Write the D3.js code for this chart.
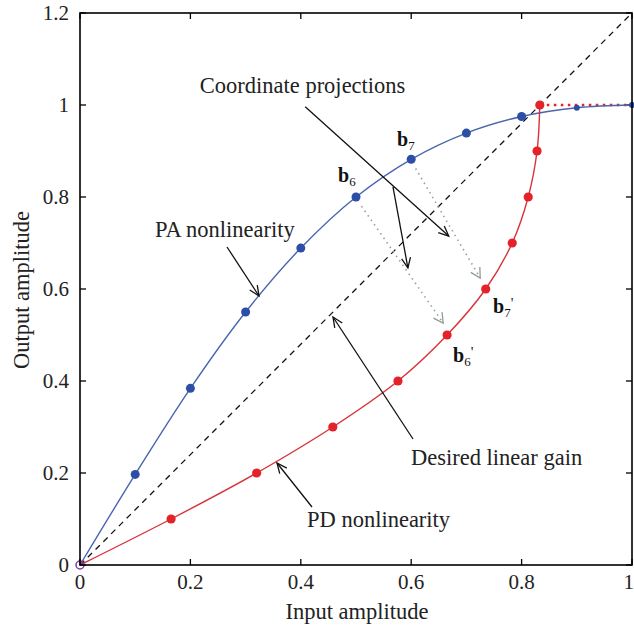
<!DOCTYPE html>
<html><head><meta charset="utf-8">
<script src="https://cdn.jsdelivr.net/npm/d3@7"></script>
<style>body{margin:0;background:#fff}svg{display:block}</style>
</head><body>
<svg id="c" width="634" height="632"></svg>
<script>
// ---- data ----
const paX = [0, 0.1, 0.2, 0.3, 0.4, 0.5, 0.6, 0.7, 0.8, 0.9, 1.0];
const paY = [0, 0.197, 0.384, 0.55, 0.689, 0.8, 0.882, 0.939, 0.975, 0.994, 1.0];
const pdX = [0, 0.165, 0.32, 0.458, 0.576, 0.665, 0.735, 0.783, 0.812, 0.828, 0.833];
const pdY = [0, 0.1, 0.2, 0.3, 0.4, 0.5, 0.6, 0.7, 0.8, 0.9, 1.0];
const gainLine = [[0, 0], [1, 1.2]];
const xTicks = [0, 0.2, 0.4, 0.6, 0.8, 1];
const yTicks = [0, 0.2, 0.4, 0.6, 0.8, 1, 1.2];
const xTickLabels = ["0", "0.2", "0.4", "0.6", "0.8", "1"];
const yTickLabels = ["0", "0.2", "0.4", "0.6", "0.8", "1", "1.2"];

// ---- layout ----
const L = 80, R = 632, T = 13, B = 565;
const svg = d3.select("#c");
const x = d3.scaleLinear().domain([0, 1]).range([L, R]);
const y = d3.scaleLinear().domain([0, 1.2]).range([B, T]);
const FONT = "'Liberation Serif','Times New Roman',serif";
const TXT = "#222";
const AFS = 22.5;

// ticks (inward, all four sides)
const g = svg.append("g").attr("stroke", "#000").attr("stroke-width", 1.3);
xTicks.forEach(v => {
  g.append("line").attr("x1", x(v)).attr("x2", x(v)).attr("y1", B).attr("y2", B - 6);
  g.append("line").attr("x1", x(v)).attr("x2", x(v)).attr("y1", T).attr("y2", T + 6);
});
yTicks.forEach(v => {
  g.append("line").attr("x1", L).attr("x2", L + 6).attr("y1", y(v)).attr("y2", y(v));
  g.append("line").attr("x1", R).attr("x2", R - 6).attr("y1", y(v)).attr("y2", y(v));
});

// tick labels
xTicks.forEach((v, i) => {
  const last = i === xTicks.length - 1;
  svg.append("text").attr("x", last ? 634 : x(v)).attr("y", 589)
    .attr("text-anchor", last ? "end" : "middle").attr("font-family", FONT).attr("font-size", 21)
    .attr("fill", TXT).text(xTickLabels[i]);
});
yTicks.forEach((v, i) => svg.append("text").attr("x", 69).attr("y", y(v) + 7)
  .attr("text-anchor", "end").attr("font-family", FONT).attr("font-size", 21)
  .attr("fill", TXT).text(yTickLabels[i]));

// axis titles
svg.append("text").attr("x", 357).attr("y", 619).attr("text-anchor", "middle")
  .attr("font-family", FONT).attr("font-size", AFS).attr("fill", TXT).text("Input amplitude");
svg.append("text").attr("transform", "translate(29,290) rotate(-90)").attr("text-anchor", "middle")
  .attr("font-family", FONT).attr("font-size", AFS).attr("fill", TXT).text("Output amplitude");

// desired linear gain (dashed)
svg.append("line").attr("x1", x(gainLine[0][0])).attr("y1", y(gainLine[0][1]))
  .attr("x2", x(gainLine[1][0])).attr("y2", y(gainLine[1][1]))
  .attr("stroke", "#111").attr("stroke-width", 1.3).attr("stroke-dasharray", "6,5");

const line = d3.line().x(d => x(d[0])).y(d => y(d[1])).curve(d3.curveCatmullRom.alpha(0.5));
const pa = paX.map((v, i) => [v, paY[i]]);
const pd = pdX.map((v, i) => [v, pdY[i]]);

// red dotted saturation line
svg.append("line").attr("x1", x(pdX[pdX.length - 1])).attr("y1", y(1)).attr("x2", x(1)).attr("y2", y(1))
  .attr("stroke", "#e3232b").attr("stroke-width", 2.6).attr("stroke-dasharray", "2.5,4.5");

// curves
svg.append("path").attr("d", line(pa)).attr("fill", "none").attr("stroke", "#4866ad").attr("stroke-width", 1.4);
svg.append("path").attr("d", line(pd)).attr("fill", "none").attr("stroke", "#d8333b").attr("stroke-width", 1.4);

// points
svg.append("g").selectAll("circle").data(pa.slice(1)).join("circle")
  .attr("cx", d => x(d[0])).attr("cy", d => y(d[1]))
  .attr("r", d => d[0] > 0.85 ? 3 : 4.5).attr("fill", "#2d4ea6");
svg.append("g").selectAll("circle").data(pd.slice(1)).join("circle")
  .attr("cx", d => x(d[0])).attr("cy", d => y(d[1]))
  .attr("r", 4.6).attr("fill", "#e3222a");
svg.append("circle").attr("cx", x(0)).attr("cy", y(0)).attr("r", 4)
  .attr("fill", "none").attr("stroke", "#7b3d9b").attr("stroke-width", 1.5);

// frame
svg.append("rect").attr("x", L).attr("y", T).attr("width", R - L).attr("height", B - T)
  .attr("fill", "none").attr("stroke", "#000").attr("stroke-width", 1.6);

// ---- annotations ----
function arrow(x1, y1, x2, y2, color) {
  const gg = svg.append("g").attr("stroke", color).attr("fill", "none").attr("stroke-width", 1.3);
  gg.append("line").attr("x1", x1).attr("y1", y1).attr("x2", x2).attr("y2", y2);
  const a = Math.atan2(y2 - y1, x2 - x1), h = 11, s = 0.42;
  const p1 = [x2 - h * Math.cos(a - s), y2 - h * Math.sin(a - s)];
  const p2 = [x2 - h * Math.cos(a + s), y2 - h * Math.sin(a + s)];
  gg.append("path").attr("d", `M${p1[0]},${p1[1]}L${x2},${y2}L${p2[0]},${p2[1]}`);
}
function label(px, py, t) {
  svg.append("text").attr("x", px).attr("y", py)
    .attr("font-family", FONT).attr("font-size", AFS).attr("fill", TXT).text(t);
}
// projections (dotted gray)
svg.append("line").attr("x1", x(0.51)).attr("y1", y(0.78)).attr("x2", x(0.658)).attr("y2", y(0.526))
  .attr("stroke", "#9aa0a0").attr("stroke-width", 1.6).attr("stroke-dasharray", "1.5,4");
svg.append("line").attr("x1", x(0.608)).attr("y1", y(0.862)).attr("x2", x(0.725)).attr("y2", y(0.624))
  .attr("stroke", "#9aa0a0").attr("stroke-width", 1.6).attr("stroke-dasharray", "1.5,4");
function head(x1, y1, x2, y2) {
  const a = Math.atan2(y2 - y1, x2 - x1), h = 11, s = 0.5;
  svg.append("path").attr("d", `M${x2 - h * Math.cos(a - s)},${y2 - h * Math.sin(a - s)}L${x2},${y2}L${x2 - h * Math.cos(a + s)},${y2 - h * Math.sin(a + s)}`)
    .attr("fill", "none").attr("stroke", "#8f9c92").attr("stroke-width", 1.3);
}
head(x(0.51), y(0.78), x(0.658), y(0.526));
head(x(0.608), y(0.862), x(0.725), y(0.624));

label(x(0.217), y(1.026), "Coordinate projections");
arrow(x(0.408), y(0.996), x(0.668), y(0.715), "#111");
arrow(x(0.567), y(0.822), x(0.594), y(0.646), "#111");

label(155, 237, "PA nonlinearity");
arrow(227, 247, 259, 296, "#111");

label(411, 465, "Desired linear gain");
arrow(413, 439, 333, 317, "#111");

label(307, 527, "PD nonlinearity");
arrow(312, 507, 277, 463, "#111");

function bLabel(px, py, sub, prime) {
  const t = svg.append("text").attr("x", px).attr("y", py).attr("font-family", FONT)
    .attr("fill", "#111").attr("font-weight", "bold").attr("font-size", 20);
  t.append("tspan").text("b");
  t.append("tspan").attr("font-size", 13).attr("font-weight", "normal").attr("dy", 4).text(sub);
  if (prime) t.append("tspan").attr("font-size", 15).attr("dy", -9).attr("font-weight", "normal").text("'");
}
bLabel(338, 182, "6", false);
bLabel(397, 146, "7", false);
bLabel(453, 362, "6", true);
bLabel(493, 313, "7", true);
</script>
</body></html>
